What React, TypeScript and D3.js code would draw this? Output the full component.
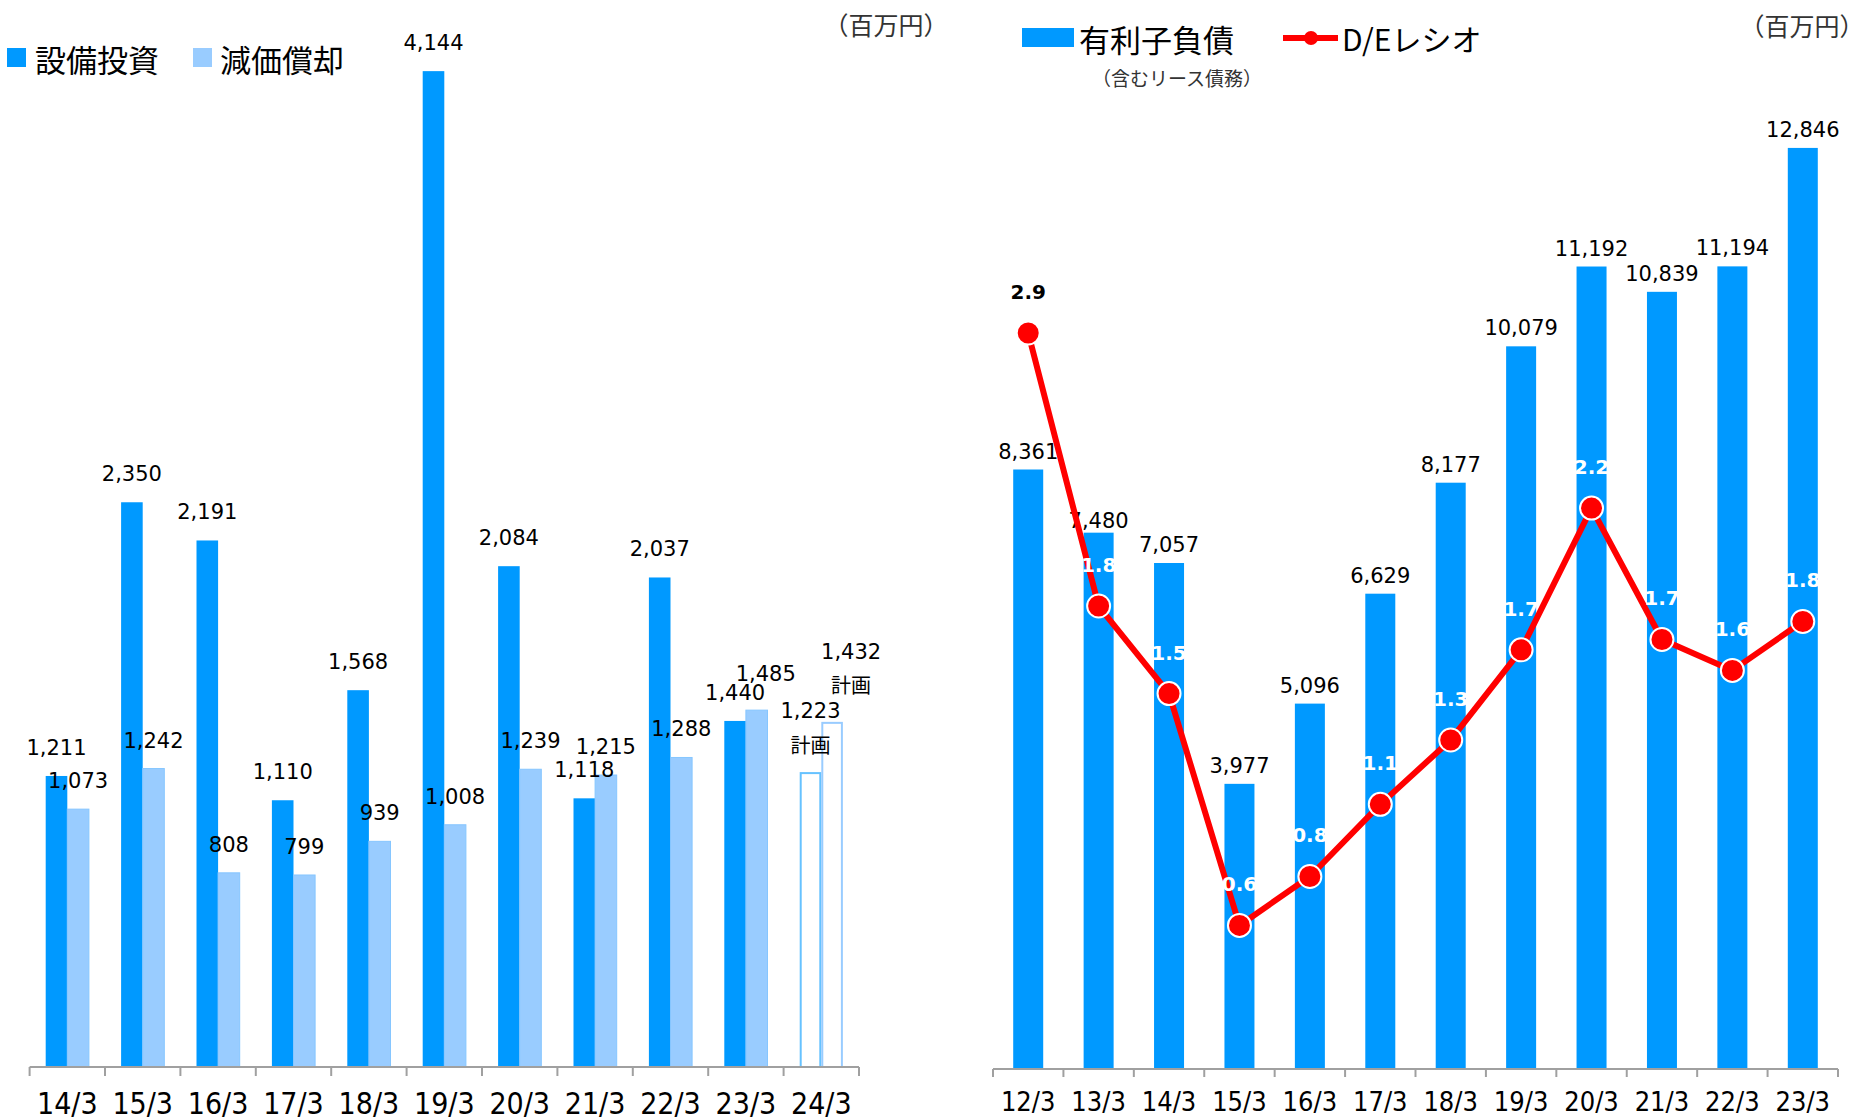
import React from 'react';
import * as d3 from 'd3';

// ---------- Data ----------
const leftCategories = ['14/3', '15/3', '16/3', '17/3', '18/3', '19/3', '20/3', '21/3', '22/3', '23/3', '24/3'];
const capex = [1211, 2350, 2191, 1110, 1568, 4144, 2084, 1118, 2037, 1440, 1223];
const depreciation = [1073, 1242, 808, 799, 939, 1008, 1239, 1215, 1288, 1485, 1432];
const isPlan = [false, false, false, false, false, false, false, false, false, false, true];

const rightCategories = ['12/3', '13/3', '14/3', '15/3', '16/3', '17/3', '18/3', '19/3', '20/3', '21/3', '22/3', '23/3'];
const debt = [8361, 7480, 7057, 3977, 5096, 6629, 8177, 10079, 11192, 10839, 11194, 12846];
const deRatio = [2.9, 1.84, 1.5, 0.6, 0.79, 1.07, 1.32, 1.67, 2.22, 1.71, 1.59, 1.78];

const legendLeft = ['設備投資', '減価償却'];
const legendRight = ['有利子負債', 'D/Eレシオ'];
const unitLabel = '（百万円）';
const debtNote = '（含むリース債務）';
const planLabel = '計画';

// ---------- Styles ----------
const BLUE = '#0099ff';
const LIGHT = '#99ccff';
const RED = '#ff0000';
const AXIS = '#a0a0a0';
const NUM_FONT = "'DejaVu Sans', Verdana, sans-serif";
const TICK_FONT = "'DejaVu Sans Condensed', 'DejaVu Sans', sans-serif";
const CJK_FONT = "'Noto Sans CJK JP', 'Noto Sans', sans-serif";

const fmt = d3.format(',');

export default function App() {
  const W = 1858;
  const H = 1118;

  // Left chart scales
  const xL = d3.scaleBand<string>().domain(leftCategories).range([29.6, 859]).padding(0);
  const yL = d3.scaleLinear().domain([0, 4440]).range([1067, 0]);
  const barWL = 21.6;
  const baseL = yL(0);

  // Right chart scales
  const xR = d3.scaleBand<string>().domain(rightCategories).range([993, 1838]).padding(0);
  const yR = d3.scaleLinear().domain([0, 14909]).range([1069, 0]);
  const yDE = d3.scaleLinear().domain([0, 4.1925]).range([1080, 0]);
  const barWR = 30;
  const baseR = yR(0);

  const cxR = (i: number) => (xR(rightCategories[i]) as number) + xR.bandwidth() / 2;
  const cxL = (i: number) => (xL(leftCategories[i]) as number) + xL.bandwidth() / 2;

  const deLine = d3
    .line<number>()
    .x((_, i) => cxR(i))
    .y((d) => yDE(d))(deRatio) as string;

  const ticksL = [...leftCategories.map((c) => xL(c) as number), xL.range()[1]];
  const ticksR = [...rightCategories.map((c) => xR(c) as number), xR.range()[1]];

  // small label nudges for overlapping labels (dx, dy)
  const depNudge: Record<number, [number, number]> = { 9: [9, -8], 10: [19, -9] };
  const debtNudge: Record<number, number> = { 1: 6 };

  return (
    <div style={{ position: 'absolute', left: 0, top: 0 }}>
      <svg width={W} height={H} viewBox={`0 0 ${W} ${H}`} style={{ display: 'block', background: '#fff' }}>
        {/* ================= LEFT CHART ================= */}
        {/* legend */}
        <rect x={7} y={48} width={19} height={19} fill={BLUE} />
        <text x={35} y={58} fontFamily={CJK_FONT} fontSize={31} dominantBaseline="central" fill="#000">
          {legendLeft[0]}
        </text>
        <rect x={193} y={48} width={19} height={19} fill={LIGHT} />
        <text x={220} y={58} fontFamily={CJK_FONT} fontSize={31} dominantBaseline="central" fill="#000">
          {legendLeft[1]}
        </text>
        <text x={886} y={24} fontFamily={CJK_FONT} fontSize={25} textAnchor="middle" dominantBaseline="central" fill="#333">
          {unitLabel}
        </text>

        {/* bars */}
        {leftCategories.map((c, i) => {
          const cx = cxL(i);
          const plan = isPlan[i];
          const yc = yL(capex[i]);
          const yd = yL(depreciation[i]);
          return (
            <g key={c}>
              {plan ? (
                <>
                  <rect x={cx - barWL + 1} y={yc} width={barWL - 2} height={baseL - yc} fill="#fff" stroke="#66c2ff" strokeWidth={2} />
                  <rect x={cx + 1} y={yd} width={barWL - 2} height={baseL - yd} fill="#fff" stroke={LIGHT} strokeWidth={2} />
                </>
              ) : (
                <>
                  <rect x={cx - barWL} y={yc} width={barWL} height={baseL - yc} fill={BLUE} />
                  <rect x={cx} y={yd} width={barWL} height={baseL - yd} fill={LIGHT} stroke="#86c6ff" strokeWidth={1} />
                </>
              )}
            </g>
          );
        })}

        {/* value labels */}
        {leftCategories.map((c, i) => {
          const cx = cxL(i);
          const plan = isPlan[i];
          const yc = yL(capex[i]);
          const yd = yL(depreciation[i]);
          const [ndx, ndy] = depNudge[i] || [0, 0];
          const bx = cx - barWL / 2;
          const lx = cx + barWL / 2 + ndx;
          return (
            <g key={'l' + c} fontFamily={NUM_FONT} fontSize={21} fill="#000" textAnchor="middle">
              {plan ? (
                <>
                  <text x={bx} y={yc - 62} dominantBaseline="central">{fmt(capex[i])}</text>
                  <text x={bx} y={yc - 29} dominantBaseline="central" fontFamily={CJK_FONT} fontSize={20}>{planLabel}</text>
                  <text x={lx} y={yd - 62 + ndy} dominantBaseline="central">{fmt(depreciation[i])}</text>
                  <text x={lx} y={yd - 29 + ndy} dominantBaseline="central" fontFamily={CJK_FONT} fontSize={20}>{planLabel}</text>
                </>
              ) : (
                <>
                  <text x={bx} y={yc - 28} dominantBaseline="central">{fmt(capex[i])}</text>
                  <text x={lx} y={yd - 28 + ndy} dominantBaseline="central">{fmt(depreciation[i])}</text>
                </>
              )}
            </g>
          );
        })}

        {/* axis */}
        <line x1={xL.range()[0]} x2={xL.range()[1]} y1={baseL} y2={baseL} stroke={AXIS} strokeWidth={2} />
        {ticksL.map((t, i) => (
          <line key={'tl' + i} x1={t} x2={t} y1={baseL} y2={baseL + 9} stroke={AXIS} strokeWidth={2} />
        ))}
        {leftCategories.map((c, i) => (
          <text key={'xl' + c} x={cxL(i)} y={1103} fontFamily={TICK_FONT} fontSize={30} textAnchor="middle" dominantBaseline="central" fill="#000">
            {c}
          </text>
        ))}

        {/* ================= RIGHT CHART ================= */}
        {/* legend */}
        <rect x={1022} y={28} width={52} height={19} fill={BLUE} />
        <text x={1079} y={38} fontFamily={CJK_FONT} fontSize={31} dominantBaseline="central" fill="#000">
          {legendRight[0]}
        </text>
        <line x1={1283} x2={1338} y1={38} y2={38} stroke={RED} strokeWidth={6} />
        <circle cx={1311} cy={38} r={7} fill={RED} />
        <text x={1342} y={38} fontFamily={CJK_FONT} fontSize={30} dominantBaseline="central" fill="#000">
          {legendRight[1]}
        </text>
        <text x={1177} y={77} fontFamily={CJK_FONT} fontSize={19} textAnchor="middle" dominantBaseline="central" fill="#333">
          {debtNote}
        </text>
        <text x={1802} y={25} fontFamily={CJK_FONT} fontSize={25} textAnchor="middle" dominantBaseline="central" fill="#333">
          {unitLabel}
        </text>

        {/* bars */}
        {rightCategories.map((c, i) => {
          const cx = cxR(i);
          const y = yR(debt[i]);
          return (
            <g key={'rb' + c}>
              <rect x={cx - barWR / 2} y={y} width={barWR} height={baseR - y} fill={BLUE} />
              <text x={cx} y={y - 18 + (debtNudge[i] || 0)} fontFamily={NUM_FONT} fontSize={21} textAnchor="middle" dominantBaseline="central" fill="#000">
                {fmt(debt[i])}
              </text>
            </g>
          );
        })}

        {/* axis */}
        <line x1={xR.range()[0]} x2={xR.range()[1]} y1={baseR} y2={baseR} stroke={AXIS} strokeWidth={2} />
        {ticksR.map((t, i) => (
          <line key={'tr' + i} x1={t} x2={t} y1={baseR} y2={baseR + 8} stroke={AXIS} strokeWidth={2} />
        ))}
        {rightCategories.map((c, i) => (
          <text key={'xr' + c} x={cxR(i)} y={1101} fontFamily={TICK_FONT} fontSize={27} textAnchor="middle" dominantBaseline="central" fill="#000">
            {c}
          </text>
        ))}

        {/* D/E line */}
        <path d={deLine} fill="none" stroke={RED} strokeWidth={6} strokeLinejoin="round" />
        {deRatio.map((v, i) => (
          <circle key={'dc' + i} cx={cxR(i)} cy={yDE(v)} r={11.5} fill={RED} stroke="#fff" strokeWidth={2} />
        ))}
        {deRatio.map((v, i) => (
          <text
            key={'dl' + i}
            x={cxR(i)}
            y={yDE(v) - 41}
            fontFamily={NUM_FONT}
            fontWeight="bold"
            fontSize={20}
            textAnchor="middle"
            dominantBaseline="central"
            fill={i === 0 ? '#000' : '#fff'}
          >
            {v.toFixed(1)}
          </text>
        ))}
      </svg>
    </div>
  );
}
